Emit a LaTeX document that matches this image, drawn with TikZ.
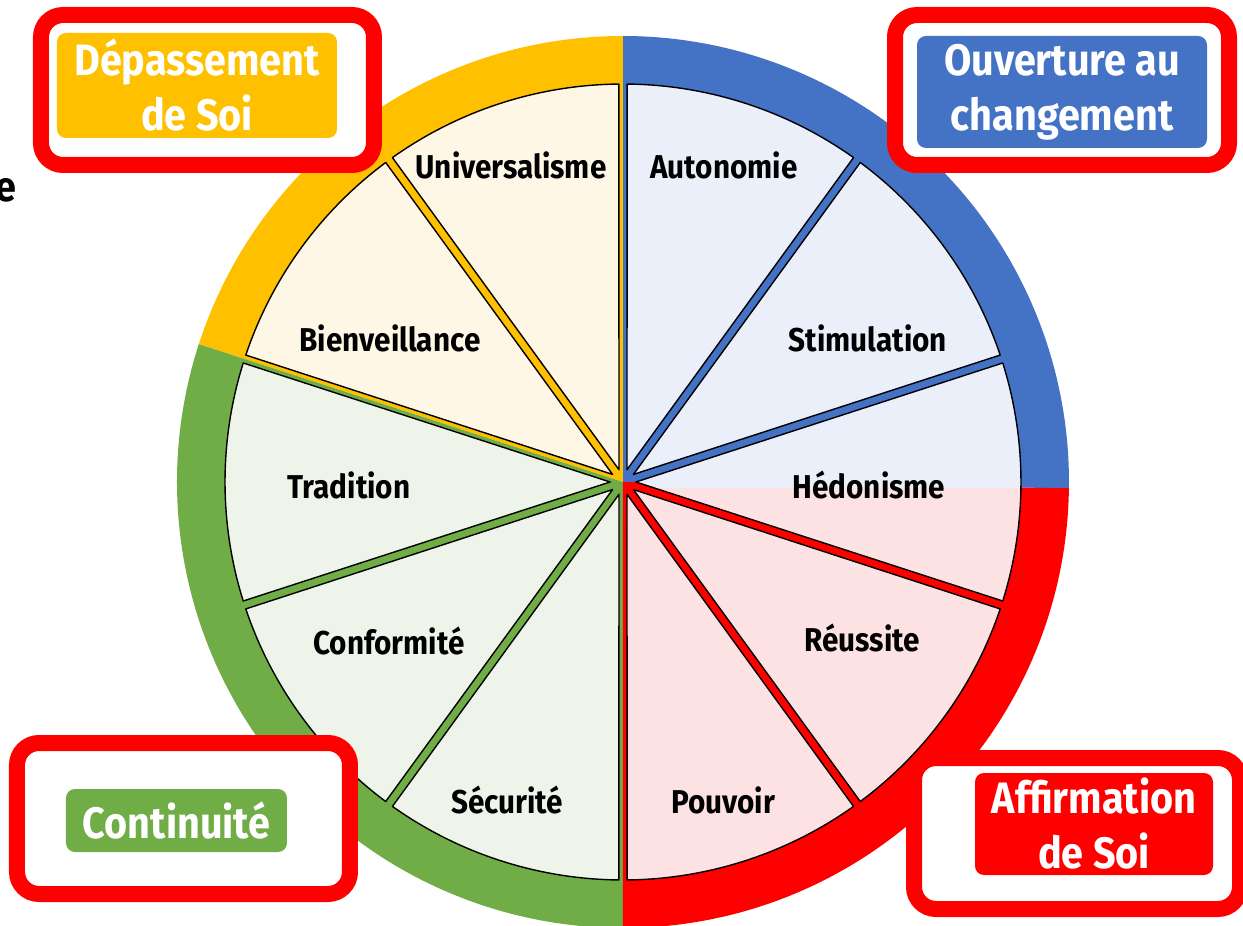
\documentclass[tikz,border=0pt]{standalone}
\usepackage{fontspec}
\setmainfont{Fira Sans}[FakeStretch=0.9]
\definecolor{dpsYellow}{HTML}{FFC000}
\definecolor{ouvBlue}{HTML}{4472C4}
\definecolor{contGreen}{HTML}{70AD47}
\definecolor{affRed}{HTML}{FF0000}
\definecolor{lightYellow}{HTML}{FFF7E6}
\definecolor{lightBlue}{HTML}{EAEFF9}
\definecolor{lightGreen}{HTML}{EFF4EA}
\definecolor{lightRed}{HTML}{FDE2E3}

\begin{document}
\begin{tikzpicture}[x=1pt,y=1pt,
  wedge/.style={draw=black, line width=1.4pt, line join=round},
  seglabel/.style={font=\fontsize{33}{40}\selectfont\bfseries, inner sep=0pt,
    text height=23pt, text depth=0pt},
  frame/.style={draw=affRed, fill=white, line width=16pt, rounded corners=22pt},
  catlabel/.style={rounded corners=9pt, text=white, align=center, inner sep=0pt,
    font=\fontsize{44}{55}\selectfont\bfseries}]
  \useasboundingbox (-623,-444) rectangle (620,482);

  % outer ring, one colour per group
  \fill[ouvBlue] (0,0) -- (-0.8:446) arc[start angle=-0.8, end angle=90, radius=446] -- cycle;
  \fill[dpsYellow] (0,0) -- (90:446) arc[start angle=90, end angle=162, radius=446] -- cycle;
  \fill[contGreen] (0,0) -- (162:446) arc[start angle=162, end angle=270, radius=446] -- cycle;
  \fill[affRed] (0,0) -- (270:446) arc[start angle=270, end angle=359.2, radius=446] -- cycle;

  % the ten values
  \foreach \a/\c in {18/lightBlue, 54/lightBlue, 90/lightYellow, 126/lightYellow,
    162/lightGreen, 198/lightGreen, 234/lightGreen, 270/lightRed, 306/lightRed}
    \filldraw[wedge, fill=\c] ({\a+18}:12.9) -- ({\a+0.6}:398)
      arc[start angle=\a+0.6, end angle=\a+35.4, radius=398] -- cycle;
  \begin{scope}
    \clip (0:12.9) -- (-17.4:398) arc[start angle=-17.4, end angle=17.4, radius=398] -- cycle;
    \fill[lightBlue] (0,-6) rectangle (400,400);
    \fill[lightRed] (0,-6) rectangle (400,-400);
  \end{scope}
  \draw[wedge] (0:12.9) -- (-17.4:398) arc[start angle=-17.4, end angle=17.4, radius=398] -- cycle;

  \node[seglabel] (univ) at (-112,315) {Universalisme};
  \node[seglabel] (auto) at (101,315) {Autonomie};
  \node[seglabel] (stim) at (245,142) {Stimulation};
  \node[seglabel] (bienv) at (-233,142) {Bienveillance};
  \node[seglabel] (trad) at (-274,-5) {Tradition};
  \node[seglabel] (hedo) at (246,-5) {Hédonisme};
  \node[seglabel] (conf) at (-234,-161) {Conformité};
  \node[seglabel] (reus) at (239,-158) {Réussite};
  \node[seglabel] (secu) at (-116,-320) {Sécurité};
  \node[seglabel] (pouv) at (100,-320) {Pouvoir};

  % group labels
  \node[frame, minimum width=333pt, minimum height=150pt] (depFrame) at (-415.5,392) {};
  \node[frame, minimum width=334pt, minimum height=150pt] (ouvFrame) at (439,392) {};
  \node[frame, minimum width=333pt, minimum height=151pt] (contFrame) at (-439.5,-336.5) {};
  \node[frame, minimum width=326pt, minimum height=151pt] (affFrame) at (454,-351.5) {};

  \node[catlabel, fill=dpsYellow, minimum width=280pt, minimum height=105pt] (dep) at (-426,396.5) {Dépassement\\de Soi};
  \node[catlabel, fill=ouvBlue, minimum width=290pt, minimum height=112pt] (ouv) at (439,390) {Ouverture au\\changement};
  \node[catlabel, fill=contGreen, minimum width=221pt, minimum height=63pt] (cont) at (-446.5,-338.5) {Continuité};
  \node[catlabel, fill=affRed, minimum width=238pt, minimum height=102pt] (aff) at (471,-342) {Affirmation\\de Soi};

  \node[font=\fontsize{42}{42}\selectfont\bfseries, anchor=east, inner sep=0pt] (cutE) at (-606,292) {e};
\end{tikzpicture}
\end{document}
